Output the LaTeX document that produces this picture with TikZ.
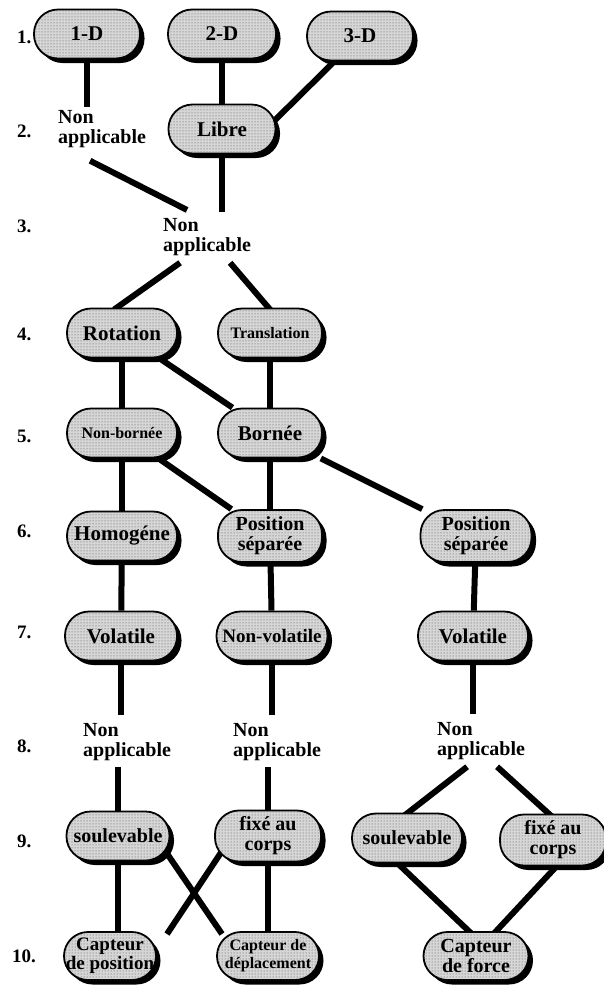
\documentclass[tikz,border=0pt]{standalone}
\usepackage{fontspec}
\setmainfont{Liberation Serif}
\usetikzlibrary{calc,shadows,patterns,backgrounds}
\pgfdeclarelayer{bottomlayer}
\pgfsetlayers{bottomlayer,background,main}
\tikzset{
  pill/.style={draw=black, line width=1.8pt, rounded corners=24pt,
    minimum height=49pt, minimum width=106pt, inner sep=1pt,
    fill=gray!32, postaction={pattern=dots, pattern color=black!70},
    drop shadow={shadow xshift=4.5pt, shadow yshift=-4.5pt, fill=black, opacity=1},
    align=center, font=\bfseries\fontsize{21}{21}\selectfont},
  smalltxt/.style={font=\bfseries\fontsize{16}{18}\selectfont},
  twoline/.style={font=\bfseries\fontsize{20}{20}\selectfont},
  freetext/.style={font=\bfseries\fontsize{20}{20}\selectfont, align=left,
    inner sep=0pt, anchor=north west},
  rowlab/.style={font=\bfseries\fontsize{19}{19}\selectfont, anchor=west, inner sep=0pt},
  conn/.style={line width=6pt, black}
}
\begin{document}
\begin{tikzpicture}[x=1pt,y=-1pt]
\begin{pgfonlayer}{bottomlayer}
\fill[white] (0,0) rectangle (603,986);
\end{pgfonlayer}
\useasboundingbox (0,0) rectangle (603,986);

% row labels
\node[rowlab] (l1) at (17,37) {1.};
\node[rowlab] (l2) at (17,131) {2.};
\node[rowlab] (l3) at (17,226) {3.};
\node[rowlab] (l4) at (17,334) {4.};
\node[rowlab] (l5) at (17,436) {5.};
\node[rowlab] (l6) at (17,531) {6.};
\node[rowlab] (l7) at (17,632) {7.};
\node[rowlab] (l8) at (17,746) {8.};
\node[rowlab] (l9) at (17,841) {9.};
\node[rowlab] (l10) at (12,956) {10.};

% nodes
\node[pill] (d1) at (87,34) {1-D};
\node[pill, minimum width=108pt] (d2) at (222,34) {2-D};
\node[pill] (d3) at (360,36) {3-D};
\node[pill, minimum width=107pt] (libre) at (222,129) {Libre};
\node[freetext] (na2) at (58,110) {Non\\applicable};
\node[freetext] (na3) at (163,218) {Non\\applicable};

\node[pill, minimum width=110pt] (rot) at (122,333) {Rotation};
\node[pill, smalltxt, minimum width=104pt] (trans) at (270,333) {Translation};
\node[pill, smalltxt, minimum width=110pt] (nb) at (122,433) {Non-bornée};
\node[pill, minimum width=104pt] (born) at (270,433) {Bornée};
\node[pill, minimum width=110pt] (homo) at (122,536) {Homogéne};
\node[pill, twoline, minimum width=104pt, minimum height=52pt] (ps1) at (270,536) {Position\\séparée};
\node[pill, twoline, minimum width=111pt, minimum height=52pt] (ps2) at (476,536) {Position\\séparée};
\node[pill, minimum width=112pt] (vol1) at (121,636) {Volatile};
\node[pill, font=\bfseries\fontsize{19}{19}\selectfont, minimum width=111pt] (nvol) at (272,636) {Non-volatile};
\node[pill, minimum width=110pt] (vol2) at (473,636) {Volatile};

\node[freetext] (na8a) at (83,723) {Non\\applicable};
\node[freetext] (na8b) at (233,723) {Non\\applicable};
\node[freetext] (na8c) at (437,722) {Non\\applicable};

\node[pill, font=\bfseries\fontsize{20}{20}\selectfont, minimum width=103pt] (soul1) at (118,836) {soulevable};
\node[pill, twoline, minimum width=106pt, minimum height=51pt] (fixe1) at (268,836) {fixé au\\corps};
\node[pill, font=\bfseries\fontsize{20}{20}\selectfont, minimum width=110pt] (soul2) at (407,838) {soulevable};
\node[pill, twoline, minimum width=106pt, minimum height=51pt] (fixe2) at (553,840) {fixé au\\corps};

\node[pill, font=\bfseries\fontsize{19}{19}\selectfont, minimum width=92pt, minimum height=48pt] (cpos) at (110,956) {Capteur\\de position};
\node[pill, font=\bfseries\fontsize{16}{18}\selectfont, minimum width=102pt, minimum height=48pt] (cdep) at (268,956) {Capteur de\\déplacement};
\node[pill, twoline, minimum width=105pt, minimum height=48pt] (cforce) at (476,956) {Capteur\\de force};

% connectors
\begin{pgfonlayer}{background}
\draw[conn] (d1) -- ($(d1 |- na2.north)+(0,-3)$);
\draw[conn] (d2) -- (libre);
\draw[conn] (d3) -- ($(libre)+(44,0)$);
\draw[conn] ($(na2.south)+(-12,13)$) -- ($(na3.north)+(-20,-8)$);
\draw[conn] (libre) -- ($(libre |- na3.north)+(0,-6)$);
\draw[conn] ($(na3.south)+(-27,7)$) -- ($(rot.north)+(-8,2)$);
\draw[conn] ($(na3.south)+(23,7)$) -- ($(trans.north)+(1,3)$);
\draw[conn] (rot) -- (nb);
\draw[conn] (rot) -- (born);
\draw[conn] (trans) -- (born);
\draw[conn] (nb) -- (homo);
\draw[conn] (nb) -- (ps1);
\draw[conn] (born) -- (ps1);
\draw[conn] (born) -- (ps2);
\draw[conn] (homo) -- (vol1);
\draw[conn] (ps1) -- (nvol);
\draw[conn] (ps2) -- (vol2);
\draw[conn] (vol1) -- ($(vol1 |- na8a.north)+(0,-8)$);
\draw[conn] (nvol) -- ($(nvol |- na8b.north)+(0,-8)$);
\draw[conn] (vol2) -- ($(vol2 |- na8c.north)+(0,-8)$);
\draw[conn] ($(soul1 |- na8a.south)+(0,6)$) -- (soul1);
\draw[conn] ($(fixe1 |- na8b.south)+(0,6)$) -- (fixe1);
\draw[conn] ($(na8c.south)+(-14,7)$) -- ($(soul2.north)+(-4,4)$);
\draw[conn] ($(na8c.south)+(16,7)$) -- ($(fixe2.north)+(-1,3)$);
\draw[conn] (soul1) -- (soul1 |- cpos);
\draw[conn] (fixe1) -- (cdep);
\draw[conn] ($(soul1)+(37,0)$) -- ($(cdep)+(-46,-22)$);
\draw[conn] ($(fixe1)+(-36,0)$) -- ($(cpos)+(57,-22)$);
\draw[conn] ($(soul2)+(-36,0)$) -- ($(cforce)+(19,0)$);
\draw[conn] ($(fixe2)+(28,0)$) -- ($(cforce)+(-3,0)$);
\end{pgfonlayer}
\end{tikzpicture}
\end{document}
